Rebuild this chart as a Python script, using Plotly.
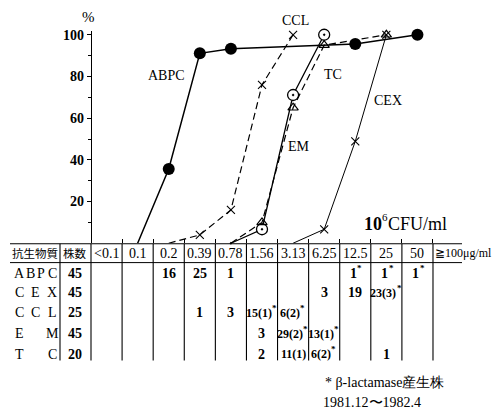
import plotly.graph_objects as go

W, H = 497, 412

# ---------------- data ----------------
mic_labels = ["<0.1", "0.1", "0.2", "0.39", "0.78", "1.56", "3.13", "6.25",
              "12.5", "25", "50", "≧100μg/ml"]
drugs = ["ABPC", "CEX", "CCL", "EM", "TC"]
drug_row_labels = [["A", "B", "P", "C"], ["C", "E", "X"], ["C", "C", "L"],
                   ["E", "M"], ["T", "C"]]
n_strains = [45, 45, 25, 45, 20]

# table cell texts (column index -> text); trailing "*" = β-lactamase producer
table_cells = {
    "ABPC": {2: "16", 3: "25", 4: "1", 8: "1*", 9: "1*", 10: "1*"},
    "CEX": {7: "3", 8: "19", 9: "23(3)*"},
    "CCL": {3: "1", 4: "3", 5: "15(1)*", 6: "6(2)*"},
    "EM": {5: "3", 6: "29(2)*", 7: "13(1)*"},
    "TC": {5: "2", 6: "11(1)", 7: "6(2)*", 9: "1"},
}

# cumulative % curves (column index of MIC, cumulative %) as drawn
abpc_x = [1, 2, 3, 4, 8, 10]
abpc_y = [0, 35.6, 91.1, 93.3, 95.6, 100]
cex_x = [6, 7, 8, 9]
cex_y = [0, 6.7, 48.9, 100]
ccl_x = [2, 3, 4, 5, 6]
ccl_y = [0, 4.0, 16.0, 76.0, 100]
em_x = [4, 5, 6, 7]
em_y = [0, 6.7, 71.1, 100]
tc_x = [4, 5, 6, 7, 9]
tc_y = [0, 10.0, 65.0, 95.0, 100]

# ---------------- geometry helpers ----------------
X0 = 91.0        # pixel of first column boundary
CW = 31.09       # column width
Y0 = 242.0       # pixel of 0 %
PPP = 2.1        # pixels per percent
YTOP = 28.0      # top of y axis line

def px(x):
    return x / W

def py(y):
    return 1 - y / H

SERIF = "Liberation Serif, DejaVu Serif, serif"
CJK = "Noto Sans CJK JP, Noto Sans CJK SC, sans-serif"

fig = go.Figure()

def add_series(xs, ys, symbol, size, dash, lw, mline, fill="black"):
    xs_c = [i + 0.5 for i in xs]
    sizes = [0 if k == 0 else size for k in range(len(xs))]
    fig.add_trace(go.Scatter(
        x=xs_c, y=ys, mode="lines+markers",
        line=dict(color="black", width=lw, dash=dash),
        marker=dict(symbol=symbol, size=sizes, color=fill, opacity=1,
                    line=dict(color="black", width=mline)),
        showlegend=False, cliponaxis=False, hoverinfo="skip"))

add_series(abpc_x, abpc_y, "circle", 12, "solid", 1.5, 0)
add_series(cex_x, cex_y, "x-thin-open", 8, "solid", 1.0, 1.1)
add_series(ccl_x, ccl_y, "x-thin-open", 8, "7px,4px", 1.2, 1.1)
add_series(em_x, em_y, "circle-dot", 11, "solid", 1.3, 1.3, fill="white")
add_series(tc_x, tc_y, "triangle-up-open", 9, "7px,4px", 1.2, 1.2)

xr0 = -X0 / CW
xr1 = (W - X0) / CW
fig.update_layout(
    width=W, height=H, margin=dict(l=0, r=0, t=0, b=0),
    paper_bgcolor="white", plot_bgcolor="rgba(0,0,0,0)",
    xaxis=dict(domain=[0, 1], range=[xr0, xr1], showgrid=False, zeroline=False,
               showline=False, tickvals=list(range(0, 12)), showticklabels=False,
               ticks="inside", ticklen=4, tickcolor="black", tickwidth=1),
    yaxis=dict(domain=[py(Y0), py(YTOP)], range=[0, (Y0 - YTOP) / PPP],
               anchor="free", position=X0 / W,
               showgrid=False, zeroline=False, showline=True, linecolor="black",
               linewidth=1.2, tickvals=[20, 40, 60, 80, 100],
               ticks="outside", ticklen=4, tickcolor="black",
               tickfont=dict(family=SERIF, size=14, color="black", weight="bold"),
               minor=dict(tickvals=[10, 30, 50, 70, 90], ticks="outside",
                          ticklen=3, tickcolor="black")),
)

shapes = []
def hline(x0, x1, y, w=1.2):
    shapes.append(dict(type="line", xref="paper", yref="paper",
                       x0=px(x0), x1=px(x1), y0=py(y), y1=py(y),
                       line=dict(color="black", width=w)))

def vline(x, y0, y1, w=1.1):
    shapes.append(dict(type="line", xref="paper", yref="paper",
                       x0=px(x), x1=px(x), y0=py(y0), y1=py(y1),
                       line=dict(color="black", width=w)))

TT = 242.5   # table top
HB = 261.5   # header bottom
TB = 360.0   # table bottom
hline(10, 462, TT)
hline(10, 462, HB, 1.0)
vline(60, TT, TB)
for k in range(12):
    vline(X0 + CW * k, TT, TB)
fig.update_layout(shapes=shapes)

ann = []
def text(x, y, s, size=13, family=SERIF, xanchor="center", weight="normal"):
    ann.append(dict(x=px(x), y=py(y), xref="paper", yref="paper", text=s,
                    showarrow=False, xanchor=xanchor, yanchor="middle",
                    borderpad=0, borderwidth=0,
                    font=dict(family=family, size=size, color="black",
                              weight=weight)))

def est_width(s, size):
    w = 0
    for ch in s:
        w += 0.5 * size if ch.isdigit() else 0.333 * size
    return w

# header
text(35, 252, "抗生物質", 11.5, CJK)
text(75, 252, "株数", 11.5, CJK)
for k, lab in enumerate(mic_labels):
    if k == 11:
        text(X0 + CW * k + 2, 252, lab, 12, SERIF, xanchor="left")
    else:
        text(X0 + CW * (k + 0.5), 252, lab, 14)

row_y = [272, 292, 312, 333, 354]
for r, d in enumerate(drugs):
    letters = drug_row_labels[r]
    n = len(letters)
    for j, ch in enumerate(letters):
        xx = 19 + (52 - 19) * j / (n - 1)
        text(xx, row_y[r], ch, 14)
    text(75, row_y[r], str(n_strains[r]), 14, weight="bold")
    for col, s in table_cells[d].items():
        star = s.endswith("*")
        base = s.rstrip("*")
        sz = 14 if "(" not in base else 12
        cx = X0 + CW * (col + 0.5)
        if star:
            cx -= 3 if "(" in base else 1.5
        text(cx, row_y[r], base, sz, weight="bold")
        if star:
            text(cx + est_width(base, sz) / 2 + 0.2, row_y[r] - 5, "*", 9,
                 xanchor="left", weight="bold")

# chart labels
text(88, 14, "%", 15)
text(166, 73, "ABPC", 14)
text(295, 18, "CCL", 14)
text(333, 72, "TC", 14)
text(388, 98, "CEX", 14)
text(299, 145, "EM", 14)
text(382, 223, "10", 18, xanchor="right", weight="bold")
text(382, 216, "6", 11, xanchor="left")
text(388, 223, "CFU/ml", 18, xanchor="left")
text(325, 382, "* β-lactamase産生株", 14, SERIF, xanchor="left")
text(323, 402, "1981.12〜1982.4", 14, SERIF, xanchor="left")

fig.update_layout(annotations=ann)
fig.write_html("out.html")
